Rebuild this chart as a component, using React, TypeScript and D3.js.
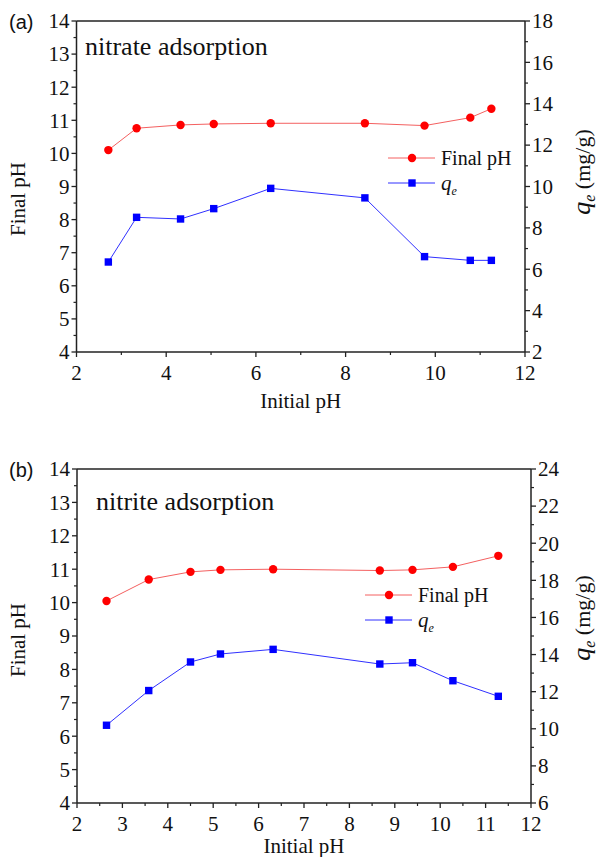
import React from "react";
import { scaleLinear, line, range } from "d3";

// initial pH values
const initialPhA = [2.71, 3.34, 4.32, 5.06, 6.33, 8.43, 9.76, 10.78, 11.25];
const finalPhA = [10.1, 10.76, 10.86, 10.89, 10.91, 10.91, 10.84, 11.08, 11.35];
const qeA = [6.35, 8.51, 8.43, 8.93, 9.91, 9.45, 6.61, 6.43, 6.43];

const initialPhB = [2.65, 3.58, 4.5, 5.16, 6.32, 8.67, 9.39, 10.28, 11.28];
const finalPhB = [10.05, 10.69, 10.92, 10.98, 11.0, 10.96, 10.98, 11.07, 11.4];
const qeB = [10.19, 12.06, 13.6, 14.03, 14.28, 13.49, 13.56, 12.59, 11.75];

const leftTicks = range(4, 15, 1);
const rightTicksA = range(2, 19, 2);
const rightTicksB = range(6, 25, 2);
const xTicksA = range(2, 13, 2);
const xTicksB = range(2, 13, 1);

const serif = "'Liberation Serif', 'Times New Roman', serif";
const sans = "'Liberation Sans', Arial, sans-serif";
const axisColor = "#222";
const textColor = "#111";

type PanelProps = {
  tag: string;
  title: string;
  x0: number; x1: number; y0: number; y1: number;
  xs: number[]; ph: number[]; qe: number[];
  qDomain: [number, number];
  rightTicks: number[];
  xTicks: number[];
  xMinorStep: number;
  legendX: number; legendY: number;
  titleX: number; titleY: number;
  leftTitleY: number; rightTitleY: number;
  xTitleY: number;
};

function Panel(p: PanelProps) {
  const x = scaleLinear().domain([2, 12]).range([p.x0, p.x1]);
  const yL = scaleLinear().domain([4, 14]).range([p.y1, p.y0]);
  const yR = scaleLinear().domain(p.qDomain).range([p.y1, p.y0]);

  const phLine = line<number>().x((d, i) => x(p.xs[i])).y(d => yL(d));
  const qLine = line<number>().x((d, i) => x(p.xs[i])).y(d => yR(d));

  const leftMinor = range(4.5, 14, 1);
  const rightMinor = range(p.qDomain[0] + 1, p.qDomain[1], 2);
  const xMinor = range(2 + p.xMinorStep, 12, p.xMinorStep * 2);

  return (
    <g>
      <text x={9} y={p.y0 + 8} fontFamily={sans} fontSize={20} fill={textColor}>{p.tag}</text>
      {/* frame */}
      <line x1={p.x0} x2={p.x1} y1={p.y0} y2={p.y0} stroke={axisColor} strokeWidth={1.5} />
      <line x1={p.x0} x2={p.x1} y1={p.y1} y2={p.y1} stroke={axisColor} strokeWidth={1.5} />
      <line x1={p.x0} x2={p.x0} y1={p.y0} y2={p.y1} stroke={axisColor} strokeWidth={1.5} />
      <line x1={p.x1} x2={p.x1} y1={p.y0} y2={p.y1} stroke={axisColor} strokeWidth={1.5} />

      {/* left axis */}
      {leftTicks.map(t => (
        <g key={"l" + t}>
          <line x1={p.x0 - 5} x2={p.x0} y1={yL(t)} y2={yL(t)} stroke={axisColor} strokeWidth={1.3} />
          <text x={p.x0 - 7} y={yL(t)} dy="0.35em" textAnchor="end" fontFamily={serif} fontSize={21} fill={textColor}>{t}</text>
        </g>
      ))}
      {leftMinor.map(t => (
        <line key={"lm" + t} x1={p.x0 - 3} x2={p.x0} y1={yL(t)} y2={yL(t)} stroke={axisColor} strokeWidth={1.2} />
      ))}

      {/* right axis */}
      {p.rightTicks.map(t => (
        <g key={"r" + t}>
          <line x1={p.x1} x2={p.x1 + 5} y1={yR(t)} y2={yR(t)} stroke={axisColor} strokeWidth={1.3} />
          <text x={p.x1 + 7} y={yR(t)} dy="0.35em" fontFamily={serif} fontSize={21} fill={textColor}>{t}</text>
        </g>
      ))}
      {rightMinor.map(t => (
        <line key={"rm" + t} x1={p.x1} x2={p.x1 + 3} y1={yR(t)} y2={yR(t)} stroke={axisColor} strokeWidth={1.2} />
      ))}

      {/* bottom axis */}
      {p.xTicks.map(t => (
        <g key={"x" + t}>
          <line x1={x(t)} x2={x(t)} y1={p.y1} y2={p.y1 + 5} stroke={axisColor} strokeWidth={1.3} />
          <text x={x(t)} y={p.y1 + 28} textAnchor="middle" fontFamily={serif} fontSize={21} fill={textColor}>{t}</text>
        </g>
      ))}
      {xMinor.map(t => (
        <line key={"xm" + t} x1={x(t)} x2={x(t)} y1={p.y1} y2={p.y1 + 3} stroke={axisColor} strokeWidth={1.2} />
      ))}

      {/* titles */}
      <text x={(p.x0 + p.x1) / 2} y={p.xTitleY} textAnchor="middle" fontFamily={serif} fontSize={21} fill={textColor}>Initial pH</text>
      <text transform={`translate(25,${p.leftTitleY}) rotate(-90)`} textAnchor="middle" fontFamily={serif} fontSize={21} fill={textColor}>Final pH</text>
      <text transform={`translate(590,${p.rightTitleY}) rotate(-90)`} textAnchor="middle" fontFamily={serif} fontSize={22} fill={textColor}>
        <tspan fontStyle="italic" fontSize={26}>q</tspan>
        <tspan fontStyle="italic" fontSize={16} dy={5}>e</tspan>
        <tspan dy={-5}> (mg/g)</tspan>
      </text>
      <text x={p.titleX} y={p.titleY} fontFamily={serif} fontSize={26} fill={textColor}>{p.title}</text>

      {/* series */}
      <path d={phLine(p.ph) ?? ""} fill="none" stroke="#f46060" strokeWidth={1} />
      <path d={qLine(p.qe) ?? ""} fill="none" stroke="#3030ff" strokeWidth={1} />
      {p.ph.map((d, i) => (
        <circle key={"c" + i} cx={x(p.xs[i])} cy={yL(d)} r={4.2} fill="#ff0000" />
      ))}
      {p.qe.map((d, i) => (
        <rect key={"s" + i} x={x(p.xs[i]) - 3.7} y={yR(d) - 3.7} width={7.4} height={7.4} fill="#0000ff" />
      ))}

      {/* legend */}
      <line x1={p.legendX} x2={p.legendX + 47} y1={p.legendY} y2={p.legendY} stroke="#f46060" strokeWidth={1} />
      <circle cx={p.legendX + 24} cy={p.legendY} r={4.2} fill="#ff0000" />
      <text x={p.legendX + 53} y={p.legendY + 7} fontFamily={serif} fontSize={20} fill={textColor}>Final pH</text>
      <line x1={p.legendX} x2={p.legendX + 47} y1={p.legendY + 25} y2={p.legendY + 25} stroke="#3030ff" strokeWidth={1} />
      <rect x={p.legendX + 24 - 3.7} y={p.legendY + 25 - 3.7} width={7.4} height={7.4} fill="#0000ff" />
      <text x={p.legendX + 53} y={p.legendY + 32} fontFamily={serif} fontSize={21} fill={textColor}>
        <tspan fontStyle="italic">q</tspan>
        <tspan fontStyle="italic" fontSize={12} dy={5}>e</tspan>
      </text>
    </g>
  );
}

export default function App() {
  return (
    <svg width={601} height={857} style={{ position: "absolute", left: 0, top: 0, background: "#fff" }}>
      <Panel
        tag="(a)" title="nitrate adsorption"
        x0={76.5} x1={525} y0={21} y1={352}
        xs={initialPhA} ph={finalPhA} qe={qeA}
        qDomain={[2, 18]} rightTicks={rightTicksA}
        xTicks={xTicksA} xMinorStep={1}
        legendX={388} legendY={158}
        titleX={85} titleY={55}
        leftTitleY={199} rightTitleY={172}
        xTitleY={408}
      />
      <Panel
        tag="(b)" title="nitrite adsorption"
        x0={77} x1={531} y0={469} y1={803}
        xs={initialPhB} ph={finalPhB} qe={qeB}
        qDomain={[6, 24]} rightTicks={rightTicksB}
        xTicks={xTicksB} xMinorStep={0.5}
        legendX={365} legendY={595}
        titleX={96} titleY={510}
        leftTitleY={640} rightTitleY={618}
        xTitleY={853}
      />
    </svg>
  );
}
